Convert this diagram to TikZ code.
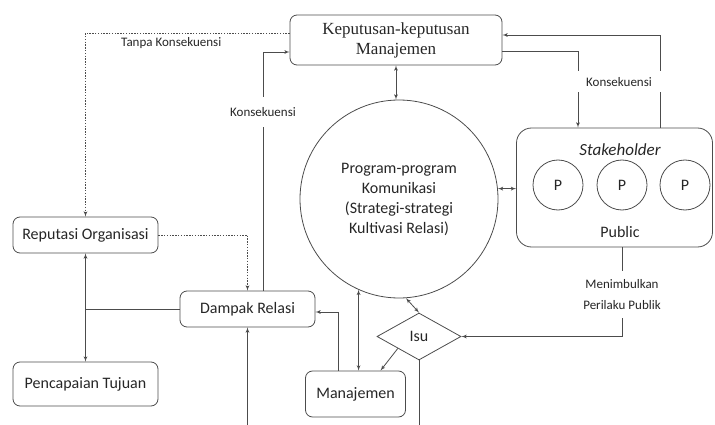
\documentclass[tikz,border=0pt]{standalone}
\usepackage{fontspec}
\setmainfont{Carlito}
\newfontfamily\kepfont{Liberation Serif}
\usetikzlibrary{shapes,arrows}
\tikzstyle{block} = [rectangle, draw, text centered, rounded corners=7pt,
    inner sep=0pt, font=\fontsize{16}{18}\selectfont]
\tikzstyle{pcirc} = [circle, draw, minimum size=50pt, font=\fontsize{16}{18}\selectfont]
\tikzstyle{line} = [draw, -latex']
\tikzstyle{dline} = [draw, latex'-latex']
\tikzstyle{dotline} = [draw, dash pattern=on 1.4pt off 1.4pt, -latex']
\tikzstyle{lbl} = [fill=white, font=\fontsize{13}{15}\selectfont, inner sep=2pt]

\begin{document}
\begin{tikzpicture}[x=1pt, y=-1pt, line width=0.8pt, color=black!70, text=black!85]
	    \useasboundingbox (0,0) rectangle (715,425);
	    % Place nodes
	    \node [block, minimum width=212pt, minimum height=50pt, align=center,
	        font=\kepfont\fontsize{17}{20}\selectfont] (kep) at (396,40) {Keputusan-keputusan\\Manajemen};
	    \node [circle, draw, minimum size=198pt, align=center,
	        font=\fontsize{16}{20}\selectfont] (prog) at (399,199) {Program-program\\Komunikasi\\(Strategi-strategi\\Kultivasi Relasi)};
	    \node [block, rounded corners=15pt, minimum width=196pt, minimum height=119pt] (stake) at (614.5,187.5) {};
	    \node [font=\itshape\fontsize{17}{19}\selectfont] (stk) at (620,150) {Stakeholder};
	    \node [pcirc] (p1) at (558,185) {P};
	    \node [pcirc] (p2) at (622,185) {P};
	    \node [pcirc] (p3) at (685,185) {P};
	    \node [font=\fontsize{16}{18}\selectfont] (pub) at (620,232) {Public};
	    \node [block, minimum width=145pt, minimum height=36pt] (rep) at (85.5,235) {Reputasi Organisasi};
	    \node [block, minimum width=135pt, minimum height=36pt] (dam) at (247.5,309) {Dampak Relasi};
	    \node [block, minimum width=145pt, minimum height=44pt] (pen) at (85.5,384) {Pencapaian Tujuan};
	    \node [block, minimum width=100pt, minimum height=46pt] (man) at (355.5,394) {Manajemen};
	    \node [diamond, draw, minimum width=84pt, minimum height=47pt, inner sep=0pt,
	        font=\fontsize{16}{18}\selectfont] (isu) at (419,336.5) {Isu};
	    \coordinate (endA) at (247.5,425);
	    \coordinate (endB) at (419,425);
	    % Draw edges
	    \path [dline] (kep.south) -- (kep.south |- prog.north);
	    \path [dline] (prog.6) -- (prog.6 -| stake.west);
	    \path [line] ([yshift=-11pt]kep.east) -| ([xshift=-36.5pt]stake.north);
	    \path [line] ([xshift=45.5pt]stake.north) |- ([yshift=5pt]kep.east);
	    \node [lbl, minimum width=88pt, minimum height=21pt] (kons2) at (619,82) {Konsekuensi};
	    \path [line] ([xshift=15.5pt]dam.north) |- ([yshift=-12pt]kep.west)
	        node [lbl, pos=0.375, minimum height=30pt] (kons1) {Konsekuensi};
	    \path [dotline] ([yshift=7pt]kep.west) -| (rep.north)
	        node [pos=0.29, below, yshift=-1pt, font=\fontsize{13}{15}\selectfont] (tanpa) {Tanpa Konsekuensi};
	    \path [dotline] (rep.east) -| (dam.north);
	    \path [dline] (rep.south) -- (pen.north);
	    \path [draw] (dam.west) -- (dam.west -| rep.south);
	    \path [line] (endA) -- (dam.south);
	    \path [line] ([xshift=-17.5pt]man.north) |- ([yshift=-3pt]dam.east);
	    \path [dline] (prog.246) -- (prog.246 |- man.north);
	    \path [dline] (isu.north) -- (prog.274);
	    \path [line] (isu.south west) -- ([xshift=25pt]man.north);
	    \path [draw] (isu.south) -- (endB);
	    \path [line] (p2 |- stake.south) |- (isu.east)
	        node [lbl, pos=0.264, align=center, minimum height=47pt] (perilaku) {Menimbulkan\\[6pt]Perilaku Publik};
	\end{tikzpicture}
\end{document}
